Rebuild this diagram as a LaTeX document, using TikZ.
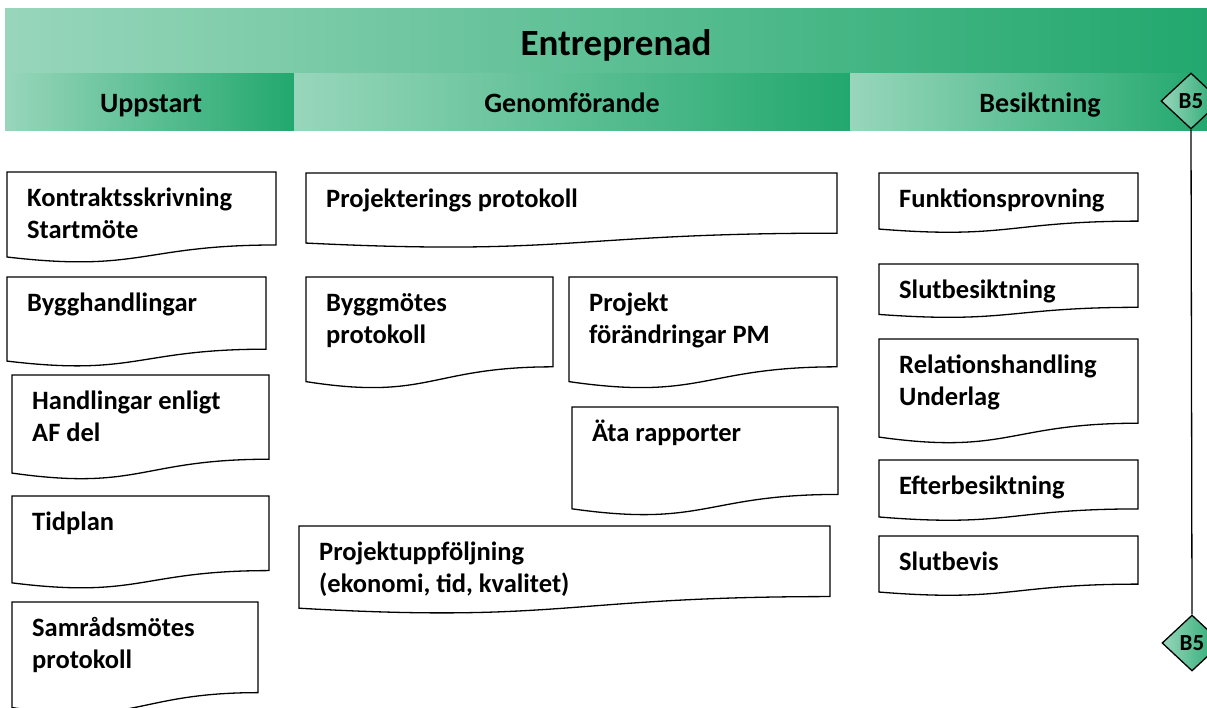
\documentclass[tikz,border=0pt]{standalone}
\usepackage{fontspec}
\setmainfont{Carlito}
\usetikzlibrary{shapes.geometric}
\definecolor{gl}{RGB}{152,214,187}
\definecolor{gd}{RGB}{34,168,110}
\newcommand\docbox[6]{%
  \draw[docline] (#2,#3) -- ({#2+#4},#3) -- ({#2+#4},{#3+0.802*#5})
    .. controls ({#2+#4/2},{#3+0.802*#5}) and ({#2+#4/2},{#3+1.1075*#5}) .. (#2,{#3+0.934*#5}) -- cycle;
  \node[doctext] (#1) at ({#2+20},{#3+34}) {\begin{tabular}[t]{@{}l@{}}#6\end{tabular}};%
}
\begin{document}
\begin{tikzpicture}[x=1pt,y=-1pt,
  docline/.style={draw=black,line width=1.3pt,fill=white},
  doctext/.style={font=\fontsize{26.5}{32}\selectfont\bfseries,inner sep=0pt,anchor=base west},
  hdrtext/.style={font=\fontsize{28}{32}\selectfont\bfseries,inner sep=0pt,anchor=base},
  band/.style={left color=gl,right color=gd,draw=none},
  milestone/.style={diamond,draw=black,line width=1.3pt,left color=gl,right color=gd,
    minimum width=60pt,minimum height=56pt,inner sep=0pt,font=\fontsize{23}{26}\selectfont\bfseries},
  link/.style={draw=black,line width=1.3pt}]
\useasboundingbox (0,0) rectangle (1207,707);
% header bands
\shade[band] (5,8) rectangle (1207,73);
\shade[band] (5,73) rectangle (294,130);
\shade[band] (294,73) rectangle (850,130);
\shade[band] (850,73) rectangle (1207,130);
\node[hdrtext,font=\fontsize{37}{42}\selectfont\bfseries] (entr) at (616,55) {Entreprenad};
\node[hdrtext] (upp) at (151,112) {Uppstart};
\node[hdrtext] (gen) at (572,112) {Genomförande};
\node[hdrtext] (bes) at (1040,112) {Besiktning};
% milestones
\node[milestone] (b5top) at (1191,101) {B5};
\node[milestone] (b5bot) at (1192,643) {B5};
\draw[link] (b5top.south) -- (b5bot.north);
% Uppstart column
\docbox{kon}{7}{172}{269}{91}{Kontraktsskrivning\\Startmöte}
\docbox{byg}{7}{277}{259}{90}{Bygghandlingar}
\docbox{han}{12}{375}{257}{105}{Handlingar enligt\\AF del}
\docbox{tid}{12}{496}{257}{93}{Tidplan}
\docbox{sam}{12}{602}{246}{113}{Samrådsmötes\\protokoll}
% Genomforande column
\docbox{prj}{306}{173}{531}{75}{Projekterings protokoll}
\docbox{bmp}{306}{277}{247}{112}{Byggmötes\\protokoll}
\docbox{pfp}{569}{277}{268}{112}{Projekt\\förändringar PM}
\docbox{ata}{572}{407}{266}{109}{Äta rapporter}
\docbox{puf}{299}{526}{531}{88}{Projektuppföljning\\(ekonomi, tid, kvalitet)}
% Besiktning column
\docbox{fun}{879}{173}{259}{60}{Funktionsprovning}
\docbox{slb}{879}{264}{259}{54}{Slutbesiktning}
\docbox{rel}{879}{339}{259}{105}{Relationshandling\\Underlag}
\docbox{eft}{879}{460}{259}{61}{Efterbesiktning}
\docbox{sbv}{879}{536}{259}{60}{Slutbevis}
\end{tikzpicture}
\end{document}
